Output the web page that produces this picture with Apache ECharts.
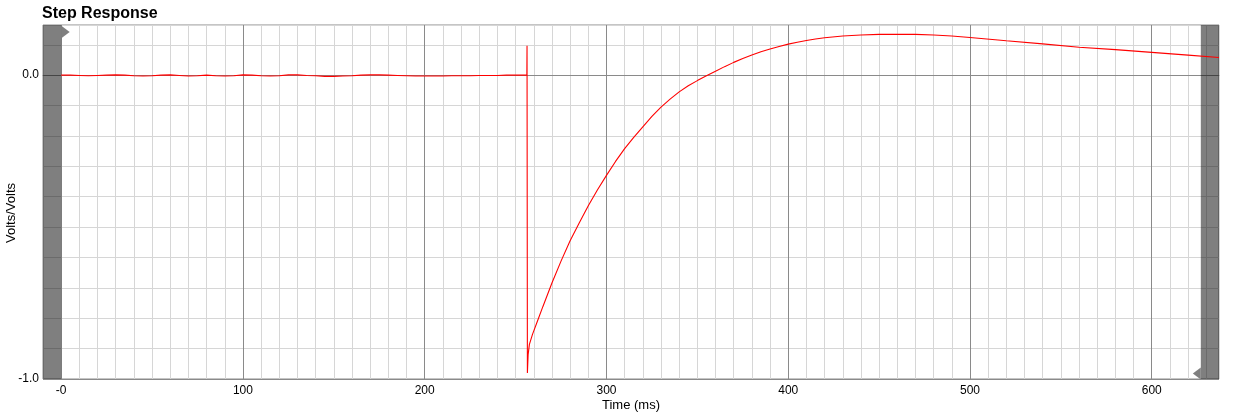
<!DOCTYPE html>
<html>
<head>
<meta charset="utf-8">
<script src="https://cdn.jsdelivr.net/npm/echarts@6/dist/echarts.min.js"></script>
<style>
html,body{margin:0;padding:0;background:#fff;}
#chart{width:1245px;height:414px;}
</style>
</head>
<body>
<div id="chart"></div>
<script>
// ---- data ----
const titleText = 'Step Response';
const xName = 'Time (ms)';
const yName = 'Volts/Volts';
const axisMinX = -10, axisMaxX = 637;
const axisMinY = -1, axisMaxY = 0.165;
const dataStart = 0, dataEnd = 627;
const timeMs = [
  0,5,10,15,20,25,30,35,40,45,50,55,60,65,70,75,80,85,90,95,
  100,105,110,115,120,125,130,135,140,145,150,155,160,165,170,175,180,185,190,195,
  200,205,210,215,220,225,230,235,240,245,250,255,256.2,
  256.3,256.5,256.9,257.6,259.3,262,265,270,275,280,285,290,295,300,
  305,310,315,320,325,330,335,340,345,350,355,360,365,370,375,380,385,390,395,400,
  405,410,415,420,430,440,450,460,470,480,490,500,
  520,540,560,580,600,620,637
];
const response = [
  0,0,-0.001,-0.002,-0.001,0,0.001,0,-0.002,-0.003,-0.002,0,0.001,-0.001,-0.003,-0.002,0,-0.002,-0.003,-0.002,
  0.001,0,-0.002,-0.003,-0.002,0.001,0.001,-0.001,-0.002,-0.004,-0.004,-0.003,-0.002,0,0.001,0.001,0,-0.001,-0.002,-0.003,
  -0.003,-0.003,-0.003,-0.002,-0.002,-0.002,-0.001,-0.001,-0.001,0,0,0,0,
  0.097,-0.98,-0.92,-0.886,-0.853,-0.81,-0.762,-0.684,-0.612,-0.545,-0.487,-0.43,-0.378,-0.33,
  -0.284,-0.242,-0.205,-0.17,-0.136,-0.105,-0.079,-0.055,-0.035,-0.018,-0.002,0.013,0.028,0.042,0.055,0.066,0.077,0.086,0.094,0.102,
  0.108,0.114,0.119,0.123,0.129,0.132,0.134,0.1345,0.134,0.132,0.129,0.124,
  0.113,0.103,0.092,0.084,0.075,0.066,0.058
];

const light = '#d6d6d6', dark = '#8a8a8a';
const font = "'Liberation Sans', Arial, sans-serif";
const xColors = [light, dark, light, light, light, light, light, light, light, light];
const yColors = [dark, light, light, light, light, light, light, light, light, light];

const chart = echarts.init(document.getElementById('chart'), null, {renderer: 'canvas'});
chart.setOption({
  animation: false,
  backgroundColor: '#fff',
  title: {
    text: titleText, left: 42, top: 6, padding: 0,
    textStyle: {fontFamily: font, fontSize: 16, fontWeight: 'bold', color: '#000'}
  },
  grid: {left: 43, right: 26, top: 25, bottom: 35, show: true, borderColor: '#8a8a8a', borderWidth: 1,
         containLabel: false, outerBoundsMode: 'none'},
  xAxis: {
    type: 'value', min: axisMinX, max: axisMaxX, interval: 10,
    name: xName, nameLocation: 'middle', nameGap: 20, nameMoveOverlap: false,
    nameTextStyle: {fontFamily: font, fontSize: 13, color: '#000'},
    axisLine: {show: true, lineStyle: {color: '#8a8a8a', width: 1}},
    axisTick: {show: false},
    axisLabel: {
      fontFamily: font, fontSize: 12, color: '#000', margin: 6,
      formatter: v => (Math.abs(v % 100) < 1e-9 ? (v === 0 ? '-0' : String(v)) : '')
    },
    splitLine: {show: true, lineStyle: {color: xColors, width: 1}}
  },
  yAxis: {
    type: 'value', min: axisMinY, max: axisMaxY, interval: 0.1,
    name: yName, nameLocation: 'middle', nameGap: 25, nameRotate: 90, nameMoveOverlap: false,
    nameTextStyle: {fontFamily: font, fontSize: 13, color: '#000', padding: [0, 0, 0, -22]},
    axisLine: {show: false},
    axisTick: {show: false},
    axisLabel: {
      fontFamily: font, fontSize: 12, color: '#000', margin: 4,
      formatter: v => (Math.abs(v - Math.round(v)) < 1e-9 ? v.toFixed(1) : '')
    },
    splitLine: {show: true, lineStyle: {color: yColors, width: 1}}
  },
  series: [
    {
      type: 'line', z: 2,
      data: timeMs.map((t, i) => [t, response[i]]),
      showSymbol: false, symbol: 'none',
      lineStyle: {color: '#ff0000', width: 1.1},
      silent: true
    },
    {
      type: 'line', z: 5, data: [], silent: true,
      markArea: {
        silent: true,
        itemStyle: {color: 'rgba(0,0,0,0.5)'},
        data: [
          [{xAxis: axisMinX}, {xAxis: dataStart}],
          [{xAxis: dataEnd}, {xAxis: axisMaxX}]
        ]
      },
      markPoint: {
        silent: true,
        label: {show: false},
        itemStyle: {color: '#7f7f7f'},
        data: [
          {coord: [dataStart, axisMaxY], symbol: 'triangle', symbolRotate: -90, symbolSize: [12, 8], symbolOffset: [4.5, 7]},
          {coord: [dataEnd, axisMinY], symbol: 'triangle', symbolRotate: 90, symbolSize: [12, 8], symbolOffset: [-4, -5.5]}
        ]
      }
    }
  ]
});
</script>
</body>
</html>
